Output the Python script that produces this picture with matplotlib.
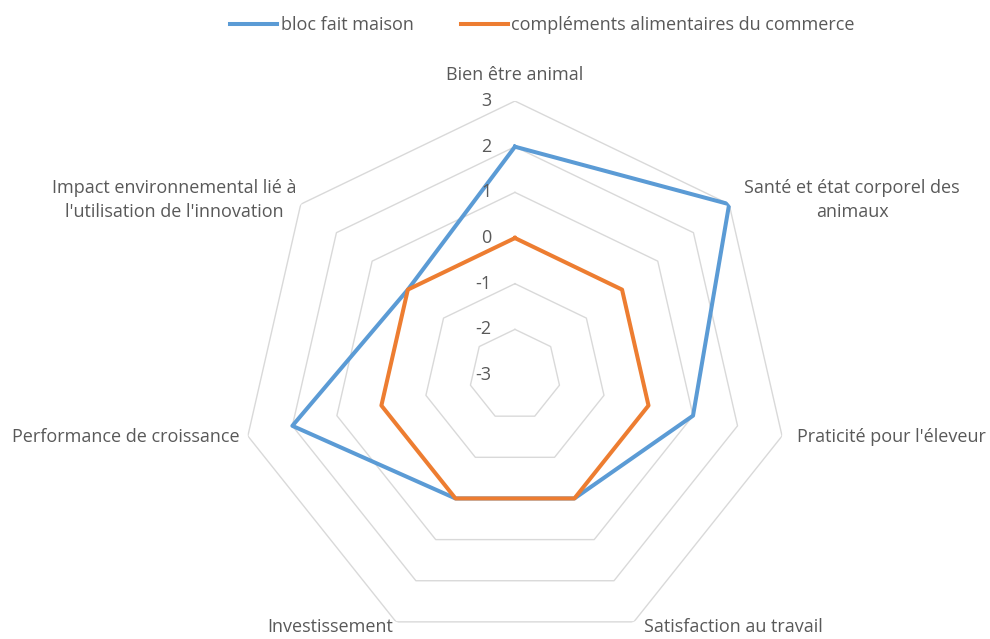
import numpy as np
import matplotlib.pyplot as plt

plt.rcParams['font.family'] = ['Open Sans', 'DejaVu Sans']

categories = ["Bien être animal",
              "Santé et état corporel des\nanimaux",
              "Praticité pour l'éleveur",
              "Satisfaction au travail",
              "Investissement",
              "Performance de croissance",
              "Impact environnemental lié à\nl'utilisation de l'innovation"]
bloc = [2, 3, 1, 0, 0, 2, 0]
commerce = [0, 0, 0, 0, 0, 0, 0]
levels = [-3, -2, -1, 0, 1, 2, 3]

n = len(categories)
angles = np.arange(n) * 2 * np.pi / n
closed = np.append(angles, angles[0])

fig = plt.figure(figsize=(9.9, 6.39), dpi=100)
ax = fig.add_axes([0.2434, -0.0157, 0.5535, 0.8576], polar=True)
ax.set_theta_offset(np.pi / 2)
ax.set_theta_direction(-1)
ax.set_ylim(-3, 3)
ax.grid(False)
ax.spines['polar'].set_visible(False)
ax.set_xticks([])
ax.set_yticks([])
ax.patch.set_alpha(0)

grid_c = '#d9d9d9'
for lv in levels[1:]:
    ax.plot(closed, [lv] * (n + 1), color=grid_c, lw=1, zorder=1)

ax.plot(closed, bloc + bloc[:1], color='#5B9BD5', lw=2.9, zorder=3,
        label='bloc fait maison')
ax.plot(closed, commerce + commerce[:1], color='#ED7D31', lw=2.9, zorder=3,
        label='compléments alimentaires du commerce')

# value labels along the top spoke
for lv in levels:
    ax.annotate(str(lv), xy=(0, lv), xytext=(-17, 0), textcoords='offset points',
                ha='right', va='center', fontsize=13, color='#595959')

# category labels
label_pos = [(515, 75), (852, 200), (891, 437), (733, 627), (330, 627), (126, 437), (174, 200)]
for lab, (px, py) in zip(categories, label_pos):
    fig.text(px / 990, 1 - py / 639, lab, ha='center', va='center',
             fontsize=13, color='#595959', linespacing=1.45)

fig.legend(loc='center', bbox_to_anchor=(0.548, 1 - 25 / 639), ncol=2,
           frameon=False, fontsize=13, handlelength=2.6, handletextpad=0.2,
           columnspacing=2.6, labelcolor='#595959')

fig.savefig('out.png', dpi=100)
